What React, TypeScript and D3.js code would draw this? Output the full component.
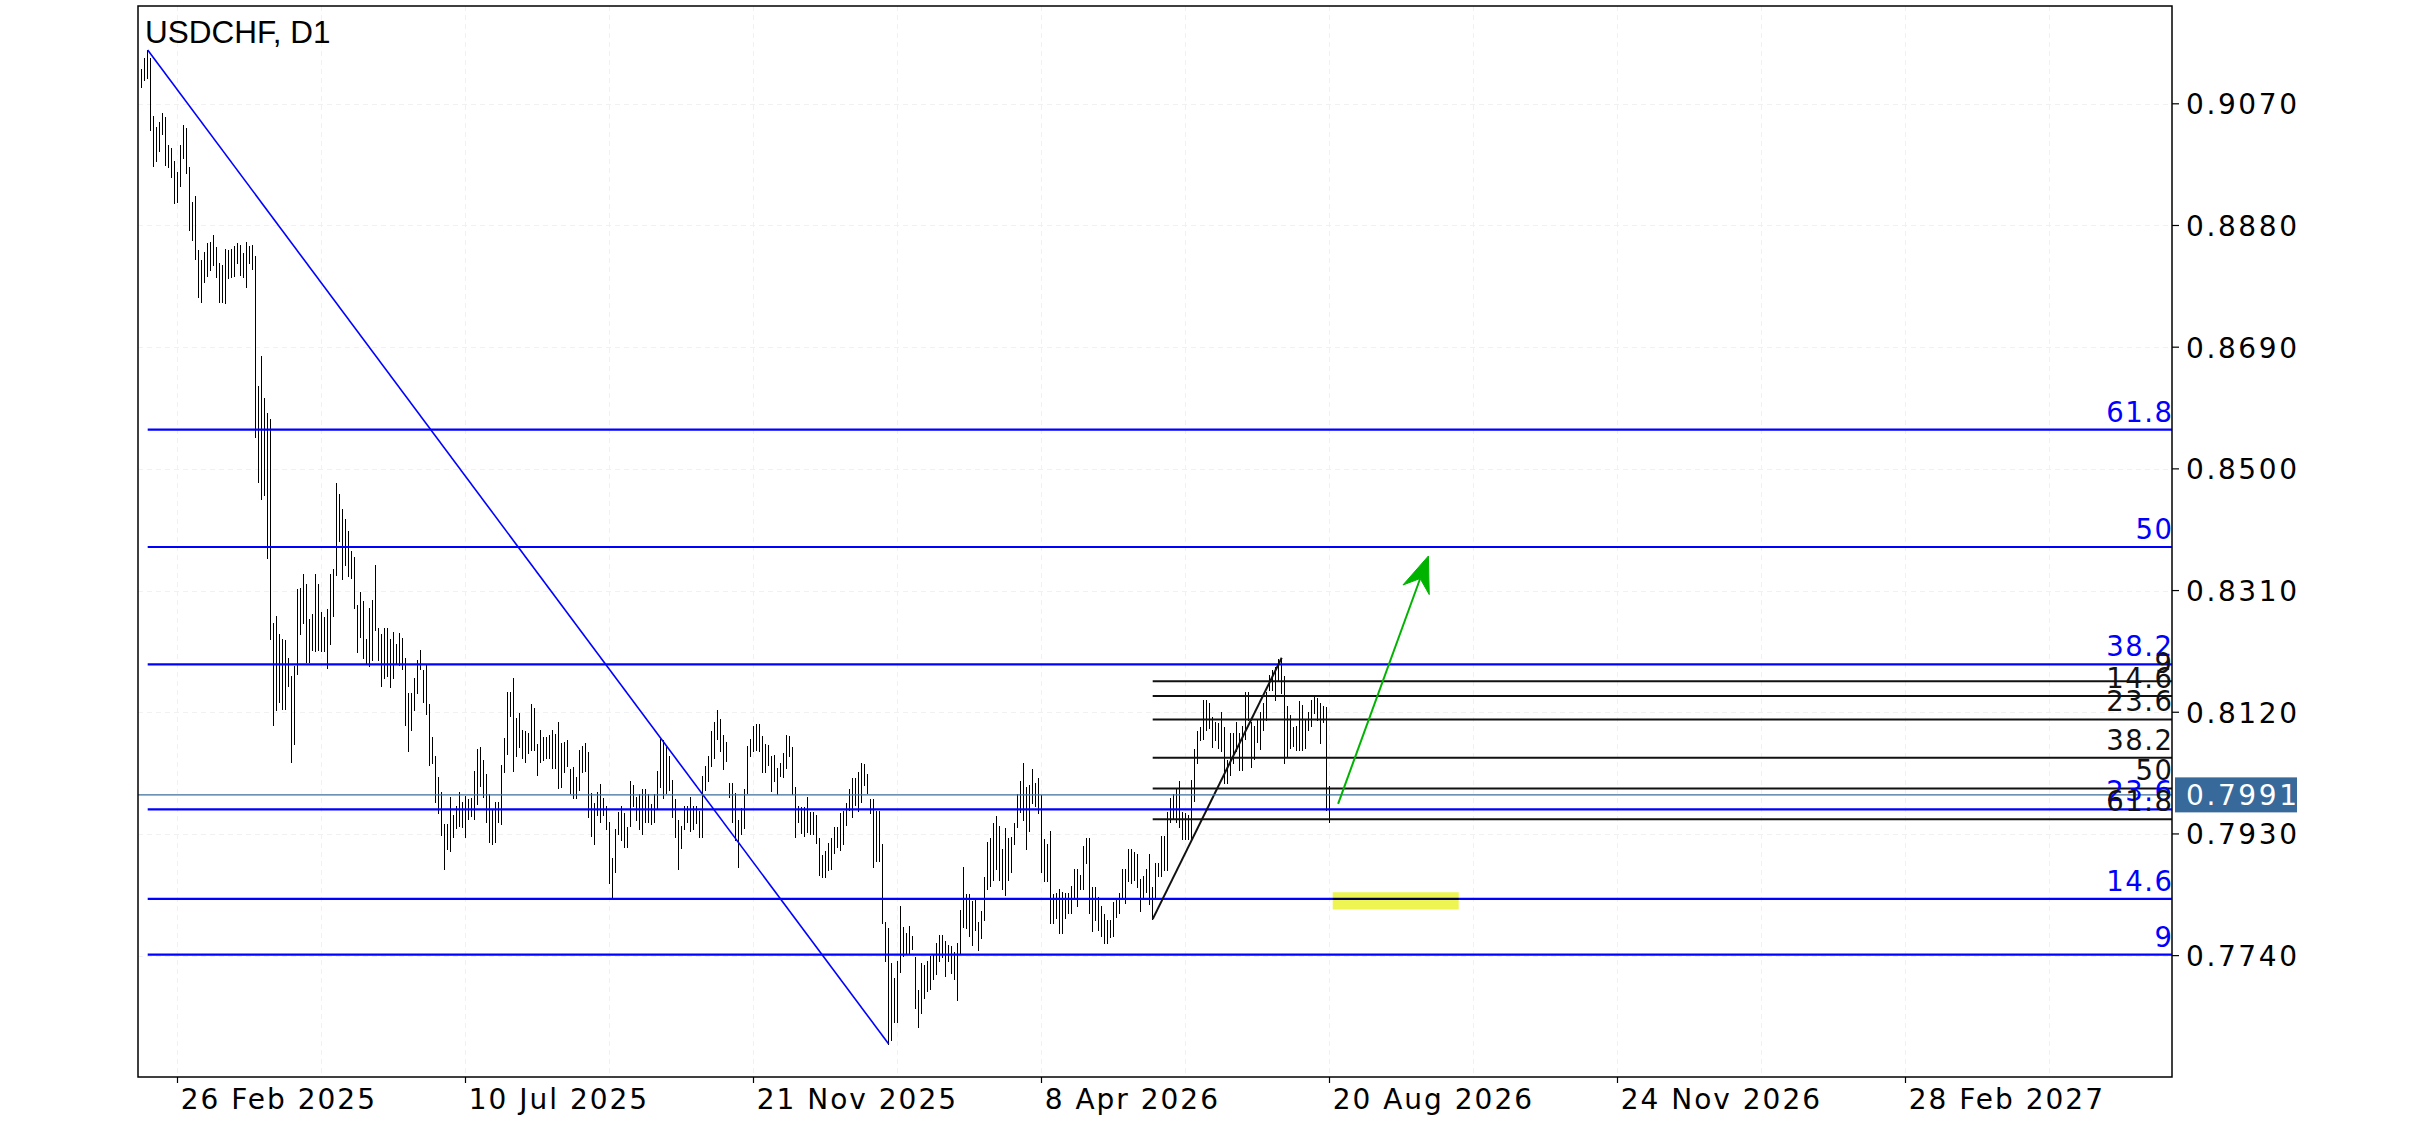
import React from "react";
import * as d3 from "d3";

// ---- data ----
const title = "USDCHF, D1";

// daily bar highs / lows, bar index 0 .. 396 (index 12 = 26 Feb 2025)
const highs = [
  0.9124, 0.9141, 0.9154, 0.9141, 0.9051, 0.9034, 0.9042, 0.9056, 0.9049, 0.9006,
  0.9001, 0.8980, 0.8964, 0.9006, 0.9037, 0.9032, 0.8972, 0.8917, 0.8926, 0.8841,
  0.8826, 0.8839, 0.8853, 0.8855, 0.8865, 0.8847, 0.8821, 0.8818, 0.8843, 0.8842,
  0.8844, 0.8848, 0.8852, 0.8850, 0.8837, 0.8855, 0.8848, 0.8850, 0.8833, 0.8629,
  0.8677, 0.8610, 0.8587, 0.8578, 0.8260, 0.8270, 0.8242, 0.8235, 0.8233, 0.8204,
  0.8176, 0.8192, 0.8313, 0.8314, 0.8336, 0.8320, 0.8265, 0.8273, 0.8336, 0.8320,
  0.8276, 0.8268, 0.8281, 0.8336, 0.8343, 0.8478, 0.8460, 0.8438, 0.8422, 0.8403,
  0.8372, 0.8363, 0.8288, 0.8307, 0.8294, 0.8235, 0.8282, 0.8296, 0.8350, 0.8252,
  0.8242, 0.8252, 0.8252, 0.8235, 0.8245, 0.8227, 0.8243, 0.8236, 0.8205, 0.8150,
  0.8150, 0.8173, 0.8201, 0.8217, 0.8186, 0.8196, 0.8133, 0.8081, 0.8052, 0.8019,
  0.7995, 0.7945, 0.7945, 0.7987, 0.7959, 0.7974, 0.7995, 0.7980, 0.7989, 0.7985,
  0.7986, 0.8028, 0.8063, 0.8066, 0.8046, 0.8023, 0.7993, 0.7969, 0.7980, 0.7980,
  0.8037, 0.8080, 0.8152, 0.8152, 0.8173, 0.8111, 0.8119, 0.8093, 0.8090, 0.8087,
  0.8133, 0.8126, 0.8071, 0.8092, 0.8081, 0.8082, 0.8085, 0.8093, 0.8086, 0.8105,
  0.8072, 0.8074, 0.8077, 0.8031, 0.8035, 0.8019, 0.8061, 0.8067, 0.8072, 0.8058,
  0.7994, 0.7978, 0.7996, 0.8008, 0.7986, 0.7974, 0.7949, 0.7892, 0.7937, 0.7965,
  0.7974, 0.7962, 0.7941, 0.8013, 0.8007, 0.7988, 0.7992, 0.8000, 0.8000, 0.7992,
  0.7977, 0.7992, 0.8028, 0.8078, 0.8077, 0.8065, 0.8051, 0.8015, 0.7984, 0.7952,
  0.7943, 0.7974, 0.7974, 0.7987, 0.7974, 0.7974, 0.7966, 0.8021, 0.8036, 0.8052,
  0.8091, 0.8105, 0.8124, 0.8109, 0.8085, 0.8074, 0.8010, 0.8010, 0.7994, 0.7951,
  0.7970, 0.8000, 0.8067, 0.8079, 0.8099, 0.8102, 0.8102, 0.8083, 0.8071, 0.8069,
  0.8052, 0.8053, 0.8033, 0.8041, 0.8056, 0.8085, 0.8083, 0.8066, 0.8003, 0.7974,
  0.7972, 0.7972, 0.7988, 0.7965, 0.7965, 0.7960, 0.7923, 0.7897, 0.7903, 0.7916,
  0.7923, 0.7941, 0.7941, 0.7963, 0.7966, 0.7978, 0.8000, 0.8017, 0.8017, 0.8026,
  0.8040, 0.8039, 0.8024, 0.7984, 0.7984, 0.7966, 0.7966, 0.7914, 0.7793, 0.7783,
  0.7728, 0.7705, 0.7731, 0.7818, 0.7785, 0.7776, 0.7786, 0.7771, 0.7738, 0.7686,
  0.7729, 0.7726, 0.7731, 0.7740, 0.7741, 0.7760, 0.7772, 0.7772, 0.7763, 0.7757,
  0.7755, 0.7745, 0.7759, 0.7811, 0.7879, 0.7836, 0.7836, 0.7826, 0.7828, 0.7793,
  0.7809, 0.7862, 0.7918, 0.7923, 0.7947, 0.7958, 0.7943, 0.7906, 0.7939, 0.7923,
  0.7925, 0.7947, 0.7992, 0.8013, 0.8041, 0.8004, 0.8007, 0.8031, 0.8009, 0.8017,
  0.7991, 0.7922, 0.7914, 0.7934, 0.7837, 0.7838, 0.7844, 0.7840, 0.7838, 0.7838,
  0.7849, 0.7875, 0.7875, 0.7866, 0.7911, 0.7923, 0.7923, 0.7847, 0.7847, 0.7832,
  0.7818, 0.7805, 0.7795, 0.7795, 0.7823, 0.7830, 0.7838, 0.7875, 0.7875, 0.7906,
  0.7906, 0.7902, 0.7899, 0.7859, 0.7864, 0.7875, 0.7899, 0.7847, 0.7885, 0.7885,
  0.7927, 0.7927, 0.7965, 0.7986, 0.7992, 0.8001, 0.8012, 0.7965, 0.7963, 0.7960,
  0.8015, 0.8062, 0.8090, 0.8097, 0.8139, 0.8139, 0.8135, 0.8113, 0.8104, 0.8103,
  0.8121, 0.8097, 0.8046, 0.8088, 0.8088, 0.8105, 0.8087, 0.8099, 0.8151, 0.8151,
  0.8105, 0.8098, 0.8108, 0.8121, 0.8134, 0.8151, 0.8178, 0.8186, 0.8190, 0.8203,
  0.8205, 0.8176, 0.8130, 0.8116, 0.8097, 0.8099, 0.8137, 0.8131, 0.8108, 0.8121,
  0.8139, 0.8145, 0.8142, 0.8134, 0.8130, 0.8128, 0.8005,
];

const lows = [
  0.9097, 0.9107, 0.9110, 0.9029, 0.8973, 0.8980, 0.8997, 0.9023, 0.8975, 0.8972,
  0.8956, 0.8915, 0.8917, 0.8941, 0.8985, 0.8962, 0.8873, 0.8857, 0.8827, 0.8769,
  0.8760, 0.8792, 0.8801, 0.8811, 0.8818, 0.8800, 0.8761, 0.8761, 0.8759, 0.8798,
  0.8800, 0.8801, 0.8821, 0.8803, 0.8800, 0.8784, 0.8821, 0.8812, 0.8550, 0.8480,
  0.8453, 0.8459, 0.8361, 0.8234, 0.8100, 0.8123, 0.8136, 0.8125, 0.8125, 0.8161,
  0.8043, 0.8071, 0.8179, 0.8242, 0.8260, 0.8199, 0.8199, 0.8217, 0.8215, 0.8217,
  0.8215, 0.8215, 0.8189, 0.8227, 0.8271, 0.8334, 0.8387, 0.8328, 0.8350, 0.8332,
  0.8330, 0.8282, 0.8214, 0.8238, 0.8204, 0.8196, 0.8192, 0.8202, 0.8248, 0.8202,
  0.8161, 0.8173, 0.8176, 0.8160, 0.8173, 0.8196, 0.8194, 0.8188, 0.8100, 0.8059,
  0.8092, 0.8123, 0.8150, 0.8188, 0.8136, 0.8118, 0.8038, 0.8041, 0.7980, 0.7962,
  0.7928, 0.7875, 0.7906, 0.7903, 0.7925, 0.7939, 0.7943, 0.7941, 0.7925, 0.7954,
  0.7958, 0.7954, 0.7977, 0.8005, 0.7987, 0.7949, 0.7918, 0.7914, 0.7918, 0.7949,
  0.7946, 0.8027, 0.8055, 0.8114, 0.8028, 0.8052, 0.8066, 0.8048, 0.8043, 0.8056,
  0.8061, 0.8061, 0.8022, 0.8043, 0.8046, 0.8048, 0.8048, 0.8033, 0.8033, 0.8001,
  0.8004, 0.8026, 0.8036, 0.7994, 0.7986, 0.7986, 0.7999, 0.8027, 0.8029, 0.7957,
  0.7927, 0.7914, 0.7960, 0.7949, 0.7960, 0.7937, 0.7853, 0.7830, 0.7871, 0.7930,
  0.7920, 0.7910, 0.7909, 0.7943, 0.7973, 0.7952, 0.7937, 0.7930, 0.7949, 0.7948,
  0.7945, 0.7948, 0.7970, 0.8004, 0.7986, 0.7994, 0.7999, 0.7957, 0.7925, 0.7875,
  0.7908, 0.7937, 0.7948, 0.7935, 0.7937, 0.7947, 0.7926, 0.7925, 0.7999, 0.8012,
  0.8036, 0.8048, 0.8079, 0.8059, 0.8031, 0.8044, 0.7987, 0.7949, 0.7921, 0.7879,
  0.7930, 0.7939, 0.7994, 0.8051, 0.8059, 0.8061, 0.8060, 0.8027, 0.8027, 0.8038,
  0.7997, 0.8012, 0.7992, 0.8021, 0.8019, 0.8033, 0.8051, 0.7992, 0.7925, 0.7949,
  0.7932, 0.7927, 0.7933, 0.7930, 0.7930, 0.7916, 0.7866, 0.7862, 0.7862, 0.7874,
  0.7876, 0.7901, 0.7910, 0.7905, 0.7914, 0.7944, 0.7967, 0.7957, 0.7975, 0.7966,
  0.7980, 0.8007, 0.7994, 0.7963, 0.7879, 0.7888, 0.7887, 0.7791, 0.7731, 0.7602,
  0.7609, 0.7637, 0.7637, 0.7715, 0.7740, 0.7743, 0.7743, 0.7751, 0.7658, 0.7629,
  0.7650, 0.7674, 0.7685, 0.7688, 0.7703, 0.7711, 0.7731, 0.7738, 0.7708, 0.7731,
  0.7713, 0.7703, 0.7671, 0.7743, 0.7784, 0.7783, 0.7771, 0.7757, 0.7780, 0.7749,
  0.7767, 0.7795, 0.7844, 0.7848, 0.7858, 0.7876, 0.7858, 0.7844, 0.7835, 0.7858,
  0.7871, 0.7914, 0.7941, 0.7965, 0.7952, 0.7906, 0.7934, 0.7978, 0.7973, 0.7962,
  0.7870, 0.7856, 0.7856, 0.7791, 0.7791, 0.7798, 0.7776, 0.7776, 0.7798, 0.7806,
  0.7806, 0.7832, 0.7817, 0.7844, 0.7844, 0.7885, 0.7806, 0.7779, 0.7796, 0.7780,
  0.7770, 0.7759, 0.7759, 0.7769, 0.7771, 0.7801, 0.7807, 0.7832, 0.7822, 0.7856,
  0.7853, 0.7858, 0.7847, 0.7809, 0.7828, 0.7840, 0.7821, 0.7797, 0.7832, 0.7864,
  0.7864, 0.7873, 0.7873, 0.7949, 0.7953, 0.7948, 0.7941, 0.7922, 0.7922, 0.7922,
  0.7922, 0.7982, 0.8041, 0.8076, 0.8079, 0.8093, 0.8095, 0.8066, 0.8077, 0.8064,
  0.8060, 0.8010, 0.8010, 0.8022, 0.8040, 0.8059, 0.8030, 0.8030, 0.8079, 0.8108,
  0.8035, 0.8047, 0.8074, 0.8062, 0.8092, 0.8108, 0.8155, 0.8155, 0.8139, 0.8170,
  0.8150, 0.8040, 0.8051, 0.8064, 0.8068, 0.8061, 0.8061, 0.8061, 0.8064, 0.8093,
  0.8098, 0.8119, 0.8108, 0.8072, 0.8104, 0.7967, 0.7949,
];

// axis ticks
const priceTicks = [0.907, 0.888, 0.869, 0.85, 0.831, 0.812, 0.793, 0.774];
const dateTickIndex = [12, 108, 204, 300, 396, 492, 588];
const dateTickLabels = [
  "26 Feb 2025", "10 Jul 2025", "21 Nov 2025", "8 Apr 2026",
  "20 Aug 2026", "24 Nov 2026", "28 Feb 2027",
];
const gridIndexStep = 48;

// fibonacci retracements
const fibLevels = [9, 14.6, 23.6, 38.2, 50, 61.8];
const blueFib = { highIdx: 2, high: 0.9154, lowIdx: 249, low: 0.7602 };
const blackFib = { lowIdx: 337, low: 0.7797, highIdx: 380, high: 0.8205 };

// annotations
const currentPrice = 0.7991;
const arrowFrom = { idx: 398.8, price: 0.7977 };
const arrowTo = { idx: 428.9, price: 0.8364 };
const zoneBox = { idx0: 397, idx1: 439, p0: 0.7812, p1: 0.7839 };

// ---- layout ----
const W = 2436;
const H = 1125;
const L = 138;
const R = 2172;
const T = 6;
const B = 1077;

const AXIS_FONT = "'DejaVu Sans', sans-serif";

export default function App() {
  const x = d3.scaleLinear().domain([0, 396]).range([141.7, 1329.7]);
  const y = d3.scaleLinear().domain([0.75505, 0.92227]).range([B, T]);
  const px = (i: number) => Math.floor(x(i)) + 0.5;

  const gridIdx = d3.range(12, 800, gridIndexStep).filter((i) => x(i) < R - 2);

  const blueLevel = (p: number) => blueFib.low + (p / 100) * (blueFib.high - blueFib.low);
  const blackLevel = (p: number) => blackFib.high - (p / 100) * (blackFib.high - blackFib.low);

  // arrow geometry
  const ax0 = x(arrowFrom.idx), ay0 = y(arrowFrom.price);
  const ax1 = x(arrowTo.idx), ay1 = y(arrowTo.price);
  const len = Math.hypot(ax1 - ax0, ay1 - ay0);
  const ux = (ax1 - ax0) / len, uy = (ay1 - ay0) / len;
  const nx = -uy, ny = ux;
  const headLen = 36, headW = 14, notch = 24;
  const bx = ax1 - ux * headLen, by = ay1 - uy * headLen;
  const headPath = [
    [ax1, ay1],
    [bx + nx * headW, by + ny * headW],
    [ax1 - ux * notch, ay1 - uy * notch],
    [bx - nx * headW, by - ny * headW],
  ];
  const line = d3.line();

  const cp = y(currentPrice);

  return (
    <svg
      width={W}
      height={H}
      style={{ position: "absolute", left: 0, top: 0, background: "#fff" }}
    >
      <rect x={0} y={0} width={W} height={H} fill="#fff" />
      <defs>
        <clipPath id="plot">
          <rect x={L} y={T} width={R - L} height={B - T} />
        </clipPath>
      </defs>

      {/* grid */}
      <g stroke="#f1f1f1" strokeWidth={1} strokeDasharray="5,4" shapeRendering="crispEdges">
        {priceTicks.map((v) => (
          <line key={"gy" + v} x1={L} x2={R} y1={Math.round(y(v)) + 0.5} y2={Math.round(y(v)) + 0.5} />
        ))}
        {gridIdx.map((i) => (
          <line key={"gx" + i} x1={px(i)} x2={px(i)} y1={T} y2={B} />
        ))}
      </g>

      <g clipPath="url(#plot)">
        {/* bars */}
        <g stroke="#000" strokeWidth={1} shapeRendering="crispEdges">
          {highs.map((h, i) => (
            <line key={i} x1={px(i)} x2={px(i)} y1={Math.round(y(h))} y2={Math.round(y(lows[i])) + 1} />
          ))}
        </g>

        {/* blue fib */}
        <g stroke="#0000ff" strokeWidth={2.2}>
          {fibLevels.map((p) => (
            <line key={"bf" + p} x1={x(blueFib.highIdx)} x2={R} y1={y(blueLevel(p))} y2={y(blueLevel(p))} />
          ))}
        </g>
        <line
          x1={x(blueFib.highIdx)} y1={y(blueFib.high)}
          x2={x(blueFib.lowIdx)} y2={y(blueFib.low)}
          stroke="#0000ff" strokeWidth={1.6}
        />

        {/* black fib */}
        <g stroke="#111" strokeWidth={2}>
          {fibLevels.map((p) => (
            <line key={"kf" + p} x1={x(blackFib.lowIdx)} x2={R} y1={y(blackLevel(p))} y2={y(blackLevel(p))} />
          ))}
        </g>
        <line
          x1={x(blackFib.lowIdx)} y1={y(blackFib.low)}
          x2={x(blackFib.highIdx)} y2={y(blackFib.high)}
          stroke="#111" strokeWidth={2}
        />

        {/* current price line */}
        <line x1={L} x2={R} y1={cp} y2={cp} stroke="#3d6e9e" strokeWidth={1.2} />

        {/* zone */}
        <rect
          x={x(zoneBox.idx0)} y={y(zoneBox.p1)}
          width={x(zoneBox.idx1) - x(zoneBox.idx0)} height={y(zoneBox.p0) - y(zoneBox.p1)}
          fill="#eef552" style={{ mixBlendMode: "multiply" }}
        />

        {/* arrow */}
        <line x1={ax0} y1={ay0} x2={ax1 - ux * notch} y2={ay1 - uy * notch} stroke="#00b300" strokeWidth={2} />
        <path d={line(headPath as [number, number][]) + "Z"} fill="#00b300" stroke="#00b300" strokeWidth={1} />
      </g>

      {/* fib labels */}
      <g fontFamily={AXIS_FONT} fontSize={27.5} textAnchor="end">
        {fibLevels.map((p) => (
          <text key={"bl" + p} x={R + 1.5} y={y(blueLevel(p)) - 8} fill="#0000ff" letterSpacing={1.5}>
            {String(p)}
          </text>
        ))}
        {fibLevels.map((p) => (
          <text key={"kl" + p} x={R + 1.5} y={y(blackLevel(p)) - 8} fill="#111" letterSpacing={1.5}>
            {String(p)}
          </text>
        ))}
      </g>

      {/* title */}
      <text x={145} y={43} fontFamily="'Liberation Sans', Arial, sans-serif" fontSize={31.5} fill="#000">
        {title}
      </text>

      {/* border */}
      <rect x={L} y={T} width={R - L} height={B - T} fill="none" stroke="#000" strokeWidth={1.5} />

      {/* y axis */}
      <g fontFamily={AXIS_FONT} fontSize={28} fill="#000">
        {priceTicks.map((v) => (
          <g key={"yt" + v}>
            <line x1={R} x2={R + 7} y1={y(v)} y2={y(v)} stroke="#000" strokeWidth={1.2} />
            <text x={R + 14} y={y(v) + 10.5} letterSpacing={2.6}>
              {v.toFixed(4)}
            </text>
          </g>
        ))}
        <rect x={R + 3} y={cp - 17.5} width={122} height={35} fill="#376a9b" />
        <text x={R + 14} y={cp + 10.5} fill="#fff" letterSpacing={2.6}>
          {currentPrice.toFixed(4)}
        </text>
      </g>

      {/* x axis */}
      <g fontFamily={AXIS_FONT} fontSize={28} fill="#000">
        {dateTickIndex.map((i, k) => (
          <g key={"xt" + i}>
            <line x1={px(i)} x2={px(i)} y1={B} y2={B + 6} stroke="#000" strokeWidth={1.2} />
            <text x={x(i) + 3} y={1109} letterSpacing={2}>
              {dateTickLabels[k]}
            </text>
          </g>
        ))}
      </g>
    </svg>
  );
}
